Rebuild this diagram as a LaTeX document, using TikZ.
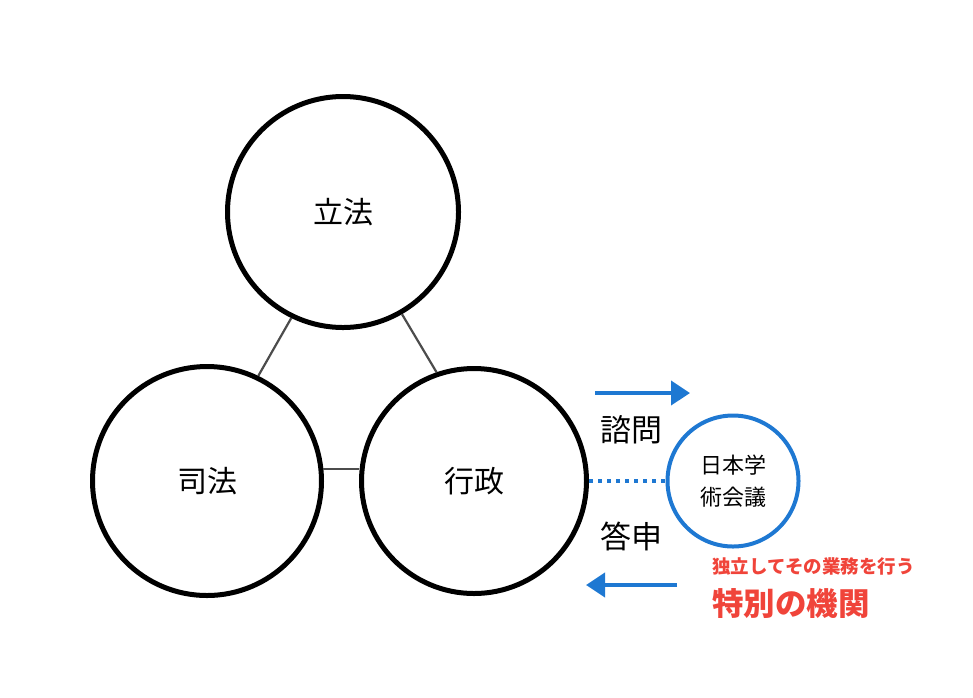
\documentclass[tikz,border=0pt]{standalone}
\usepackage{fontspec}
\newfontfamily\jp{Noto Sans CJK JP}
\usetikzlibrary{arrows.meta}
\definecolor{myblue}{HTML}{1E78D2}
\definecolor{myred}{HTML}{F0443A}
\begin{document}
\begin{tikzpicture}[x=1pt,y=-1pt,
  bigc/.style={circle,draw=black,line width=5pt,minimum size=#1,inner sep=0pt,font=\jp\fontsize{30}{36}\selectfont},
  conn/.style={draw=black!70,line width=2.2pt},
  lbl/.style={font=\jp\fontsize{31}{36}\selectfont,inner sep=0pt},
  barrow/.style={draw=myblue,line width=4pt,-{Triangle[length=19pt,width=24pt]}}
]
\useasboundingbox (0,0) rectangle (973,697);
\node[bigc=231pt] (rp) at (343,212) {立法};
\node[bigc=229pt] (sf) at (207,481) {司法};
\node[bigc=225pt] (gs) at (474,481) {行政};
\node[circle,draw=myblue,line width=4pt,minimum size=131pt,inner sep=0pt,align=center,font=\jp\fontsize{22}{32}\selectfont] (sc) at (733,481) {日本学\\術会議};
\draw[conn] (rp.244) -- (sf.64);
\draw[conn] (rp.300) -- (gs.109);
\draw[conn] (sf.6) -- (sf.6 -| gs.west);
\draw[myblue,line width=4pt,dash pattern=on 4pt off 5pt] (gs.east) -- (sc.west);
\coordinate (a1s) at (595,393);
\coordinate (a1e) at (690,393);
\coordinate (a2s) at (677,585);
\coordinate (a2e) at (586,585);
\draw[barrow] (a1s) -- (a1e);
\draw[barrow] (a2s) -- (a2e);
\node[lbl] (q) at (631,430) {諮問};
\node[lbl] (r) at (631,536) {答申};
\node[font=\jp\fontsize{18.5}{20}\selectfont\bfseries,text=myred,inner sep=0pt,anchor=west] (t1) at (712,566) {独立してその業務を行う};
\node[font=\jp\fontsize{31.5}{34}\selectfont\bfseries,text=myred,inner sep=0pt,anchor=west] (t2) at (712,604) {特別の機関};
\end{tikzpicture}
\end{document}
